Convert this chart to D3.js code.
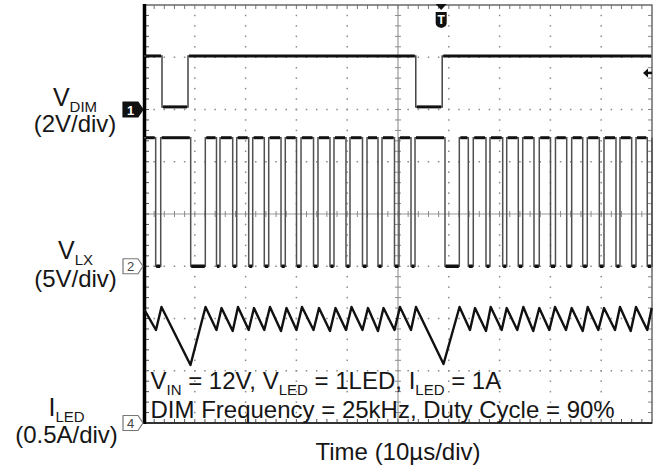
<!DOCTYPE html>
<html>
<head>
<meta charset="utf-8">
<script src="https://cdn.jsdelivr.net/npm/d3@7"></script>
<style>
  body { margin: 0; background: #fff; }
  svg text { font-family: "Liberation Sans", Arial, sans-serif; fill: #161616; }
</style>
</head>
<body>
<svg id="chart" width="661" height="470"></svg>
<script>
// ---- data (time in µs, 10 µs/div) ----
const dimTimes = [0, 3.54, 8.66, 53.5, 58.7, 100];
const dimVolts = [2.05, 0.1, 2.05, 0.1, 2.05];

const lxLowStart = [2.30, 9.19, 14.27, 17.46, 20.61, 23.68, 26.97, 30.02, 33.37, 36.61, 39.76, 43.01, 46.06, 49.31, 52.56,
                    59.25, 63.84, 67.32, 70.61, 73.68, 76.77, 80.02, 83.21, 86.36, 89.63, 92.91, 96.00, 99.07];
const lxLowEnd   = [3.29, 12.07, 14.96, 18.25, 21.40, 24.55, 27.81, 30.91, 34.25, 37.40, 40.55, 43.90, 46.85, 50.20, 53.35,
                    62.07, 64.82, 68.11, 71.40, 74.55, 77.81, 81.00, 84.19, 87.26, 90.55, 93.70, 96.85, 100];
const lxHigh = 12.3, lxLow = 0;

const ledTimes = [0, 2.36, 3.44, 9.15, 12.11,
  14.27, 15.26, 17.46, 18.50, 20.61, 21.65, 23.68, 24.80, 26.97, 28.05, 30.02, 31.10, 33.37, 34.45,
  36.61, 37.70, 39.76, 40.85, 43.01, 44.09, 46.06, 47.15, 49.31, 50.39, 52.56, 53.54,
  58.96, 62.11,
  64.17, 65.16, 67.32, 68.25, 70.41, 71.40, 73.48, 74.67, 76.63, 77.81, 79.78, 80.91,
  83.07, 84.19, 86.36, 87.34, 89.43, 90.55, 92.72, 93.70, 95.81, 96.85, 99.07, 99.94];
const ledAmps = [1.09, 0.89, 1.11, 0.555, 1.11,
  0.89, 1.10, 0.88, 1.11, 0.89, 1.10, 0.89, 1.11, 0.88, 1.10, 0.89, 1.11, 0.89, 1.10,
  0.88, 1.10, 0.89, 1.11, 0.89, 1.10, 0.88, 1.10, 0.89, 1.11, 0.89, 1.11,
  0.565, 1.11,
  0.89, 1.10, 0.88, 1.11, 0.89, 1.10, 0.89, 1.11, 0.88, 1.10, 0.89, 1.11,
  0.89, 1.10, 0.88, 1.11, 0.89, 1.10, 0.89, 1.11, 0.88, 1.11, 0.89, 1.10];

const triggerTime = 58.5;      // T marker
const triggerLevel = 1.4;      // V on ch1, arrow on right edge

const chanMain  = ['V', 'V', 'I'];
const chanSub   = ['DIM', 'LX', 'LED'];
const chanScale = ['(2V/div)', '(5V/div)', '(0.5A/div)'];
const chanNum   = ['1', '2', '4'];

// ---- layout ----
const pL = 144, pR = 652, pT = 5, pB = 423;
const svg = d3.select('#chart');

const x = d3.scaleLinear().domain([0, 100]).range([pL, pR]);
const xDiv = d3.scaleLinear().domain([0, 10]).range([pL, pR]);
const yDiv = d3.scaleLinear().domain([0, 8]).range([pB, pT]);
// per channel: offset in div and units/div
const yCh1 = d3.scaleLinear().domain([-12, 4]).range([pB, pT]);
const yCh2 = d3.scaleLinear().domain([-15, 25]).range([pB, pT]);
const yCh4 = d3.scaleLinear().domain([0, 4]).range([pB, pT]);

// ---- graticule ----
const grid = svg.append('g');
const dotColor = '#8a8a8a';

d3.range(1, 10).filter(i => i !== 5).forEach(i => {
  d3.range(1, 40).forEach(j => {
    grid.append('rect').attr('x', xDiv(i) - 0.75).attr('y', yDiv(j / 5) - 0.75)
      .attr('width', 1.5).attr('height', 1.5).attr('fill', dotColor);
  });
});
d3.range(1, 8).filter(j => j !== 4).forEach(j => {
  d3.range(1, 50).forEach(i => {
    grid.append('rect').attr('x', xDiv(i / 5) - 0.75).attr('y', yDiv(j) - 0.75)
      .attr('width', 1.5).attr('height', 1.5).attr('fill', dotColor);
  });
});

// centre cross with minor ticks
grid.append('line').attr('x1', pL).attr('x2', pR).attr('y1', yDiv(4)).attr('y2', yDiv(4))
  .attr('stroke', '#9a9a9a').attr('stroke-width', 1.2);
grid.append('line').attr('x1', xDiv(5)).attr('x2', xDiv(5)).attr('y1', pT).attr('y2', pB)
  .attr('stroke', '#9a9a9a').attr('stroke-width', 1.2);
d3.range(1, 50).forEach(i => {
  grid.append('line').attr('x1', xDiv(i / 5)).attr('x2', xDiv(i / 5))
    .attr('y1', yDiv(4) - 3).attr('y2', yDiv(4) + 3).attr('stroke', '#8a8a8a');
  grid.append('line').attr('x1', xDiv(i / 5)).attr('x2', xDiv(i / 5))
    .attr('y1', pT).attr('y2', pT + 4).attr('stroke', '#777');
  grid.append('line').attr('x1', xDiv(i / 5)).attr('x2', xDiv(i / 5))
    .attr('y1', pB - 4).attr('y2', pB).attr('stroke', '#555');
});
d3.range(1, 40).forEach(j => {
  grid.append('line').attr('y1', yDiv(j / 5)).attr('y2', yDiv(j / 5))
    .attr('x1', xDiv(5) - 3).attr('x2', xDiv(5) + 3).attr('stroke', '#8a8a8a');
  grid.append('line').attr('y1', yDiv(j / 5)).attr('y2', yDiv(j / 5))
    .attr('x1', pL).attr('x2', pL + 5).attr('stroke', '#555');
  grid.append('line').attr('y1', yDiv(j / 5)).attr('y2', yDiv(j / 5))
    .attr('x1', pR - 4).attr('x2', pR).attr('stroke', '#888');
});

// frame
svg.append('rect').attr('x', pL).attr('y', pT).attr('width', pR - pL).attr('height', pB - pT)
  .attr('fill', 'none').attr('stroke', '#6a6a6a').attr('stroke-width', 1.5);
svg.append('line').attr('x1', pL).attr('x2', pR).attr('y1', pB).attr('y2', pB)
  .attr('stroke', '#333').attr('stroke-width', 2);
svg.append('line').attr('x1', pL + 0.5).attr('x2', pL + 0.5).attr('y1', pT - 1).attr('y2', pB + 1)
  .attr('stroke', '#000').attr('stroke-width', 3.5);

// ---- traces ----
const traces = svg.append('g');
const stepLine = (ys) => d3.line().x(d => x(d[0])).y(d => ys(d[1]));

// ch1: DIM
const dimPts = [];
dimVolts.forEach((v, i) => { dimPts.push([dimTimes[i], v], [dimTimes[i + 1], v]); });
traces.append('path').attr('d', stepLine(yCh1)(dimPts))
  .attr('fill', 'none').attr('stroke', '#444').attr('stroke-width', 1.5);
dimVolts.forEach((v, i) => {
  traces.append('line').attr('x1', x(dimTimes[i]) + (i ? 1 : 2)).attr('x2', x(dimTimes[i + 1]) - 1)
    .attr('y1', yCh1(v)).attr('y2', yCh1(v)).attr('stroke', '#111').attr('stroke-width', 3);
});

// ch2: LX
const lxPts = [[0, lxHigh]];
lxLowStart.forEach((s, i) => {
  lxPts.push([s, lxHigh], [s, lxLow], [lxLowEnd[i], lxLow], [lxLowEnd[i], lxHigh]);
});
lxPts.push([100, lxHigh]);
traces.append('path').attr('d', stepLine(yCh2)(lxPts))
  .attr('fill', 'none').attr('stroke', '#505050').attr('stroke-width', 1.5);
const highStarts = [0].concat(lxLowEnd), highEnds = lxLowStart.concat([100]);
highStarts.forEach((s, i) => {
  if (highEnds[i] - s <= 0) return;
  traces.append('line').attr('x1', Math.max(x(s) + 1, pL + 2)).attr('x2', x(highEnds[i]) - 1)
    .attr('y1', yCh2(lxHigh)).attr('y2', yCh2(lxHigh)).attr('stroke', '#111').attr('stroke-width', 3);
});
lxLowStart.forEach((s, i) => {
  traces.append('line').attr('x1', x(s) + 0.5).attr('x2', Math.min(x(lxLowEnd[i]) - 0.5, pR - 1))
    .attr('y1', yCh2(lxLow)).attr('y2', yCh2(lxLow)).attr('stroke', '#111').attr('stroke-width', 3.5);
});

// ch4: I_LED
traces.append('path').attr('d', d3.line().x(d => x(d[0])).y(d => yCh4(d[1]))(d3.zip(ledTimes, ledAmps)))
  .attr('fill', 'none').attr('stroke', '#111').attr('stroke-width', 2.4).attr('stroke-linejoin', 'round');

// ---- channel markers ----
const markerY = [yCh1(0), yCh2(0), yCh4(0)];
const marker = (yy) => `M${pL - 21},${yy - 7.5} H${pL - 6} L${pL - 1},${yy} L${pL - 6},${yy + 7.5} H${pL - 21} Z`;
markerY.forEach((yy, i) => {
  const filled = i === 0;
  svg.append('path').attr('d', marker(yy))
    .attr('fill', filled ? '#111' : '#fff').attr('stroke', filled ? '#111' : '#777').attr('stroke-width', 1.2)
    .attr('stroke-linejoin', 'round');
  svg.append('text').attr('x', pL - 13.5).attr('y', yy + 5).attr('text-anchor', 'middle')
    .attr('font-size', 13).attr('font-weight', filled ? 'bold' : 'normal')
    .style('fill', filled ? '#fff' : '#444').text(chanNum[i]);
});

// trigger marker at top
const tx = x(triggerTime);
svg.append('path').attr('d', `M${tx - 5.5},${pT - 1} L${tx + 5.5},${pT - 1} L${tx},${pT + 5} Z`).attr('fill', '#111');
svg.append('path').attr('d', `M${tx - 5.5},${pT + 7} H${tx + 5.5} V${pT + 18} Q${tx + 5.5},${pT + 22} ${tx},${pT + 23} Q${tx - 5.5},${pT + 22} ${tx - 5.5},${pT + 18} Z`)
  .attr('fill', '#111');
svg.append('text').attr('x', tx).attr('y', pT + 18.5).attr('text-anchor', 'middle')
  .attr('font-size', 12).attr('font-weight', 'bold').style('fill', '#fff').text('T');

// trigger level arrow at right edge
const ty = yCh1(triggerLevel);
svg.append('path').attr('d', `M${pR - 9},${ty} L${pR - 4},${ty - 4.5} L${pR - 4},${ty + 4.5} Z`).attr('fill', '#111');
svg.append('line').attr('x1', pR - 5).attr('x2', pR).attr('y1', ty).attr('y2', ty)
  .attr('stroke', '#111').attr('stroke-width', 2.5);

// ---- labels ----
const labelX = [75, 75.5, 66.5];
const mainY = [106, 259, 416];
const scaleY = [132, 287, 443];
chanMain.forEach((m, i) => {
  const t = svg.append('text').attr('x', labelX[i]).attr('y', mainY[i]).attr('text-anchor', 'middle')
    .attr('font-size', 25).text(m);
  t.append('tspan').attr('font-size', 15).attr('dy', 6).text(chanSub[i]);
  svg.append('text').attr('x', labelX[i]).attr('y', scaleY[i]).attr('text-anchor', 'middle')
    .attr('font-size', 24).text(chanScale[i]);
});

// conditions
const cond = svg.append('text').attr('x', 150.5).attr('y', 389).attr('font-size', 24);
[['V', 0], ['IN', 1], [' = 12V, V', 0], ['LED', 1], [' = 1LED, I', 0], ['LED', 1], [' = 1A', 0]].forEach(([s, sub], i, arr) => {
  const prevSub = i > 0 && arr[i - 1][1];
  cond.append('tspan').attr('font-size', sub ? 15 : 24)
    .attr('dy', sub ? 6 : (prevSub ? -6 : 0)).text(s);
});
svg.append('text').attr('x', 150.5).attr('y', 418).attr('font-size', 24)
  .text('DIM Frequency = 25kHz, Duty Cycle = 90%');

svg.append('text').attr('x', xDiv(5)).attr('y', 460).attr('text-anchor', 'middle')
  .attr('font-size', 24).text('Time (10µs/div)');
</script>
</body>
</html>
